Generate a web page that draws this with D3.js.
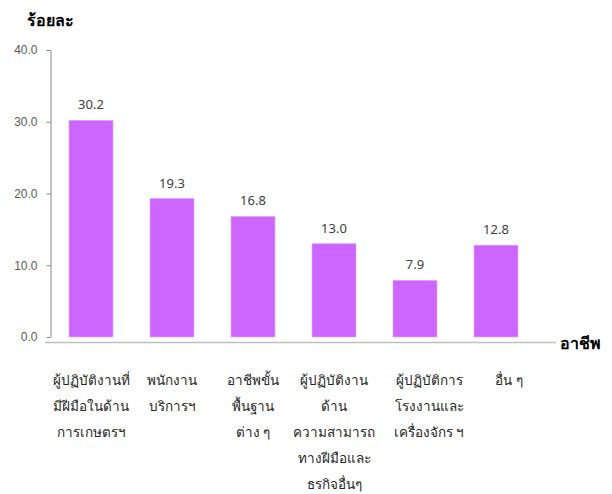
<!DOCTYPE html>
<html>
<head>
<meta charset="utf-8">
<script src="https://cdn.jsdelivr.net/npm/d3@7"></script>
<style>
  body { margin: 0; background: #fff; }
  svg { display: block; font-family: "Noto Sans", "DejaVu Sans", sans-serif; }
</style>
</head>
<body>
<div id="chart"></div>
<script>
//////////////////////////////  data  /////////////////////////////////
var categories = [
  ["ผู้ปฏิบัติงานที่", "มีฝีมือในด้าน", "การเกษตรฯ"],
  ["พนักงาน", "บริการฯ"],
  ["อาชีพขั้น", "พื้นฐาน", "ต่าง ๆ"],
  ["ผู้ปฏิบัติงาน", "ด้าน", "ความสามารถ", "ทางฝีมือและ", "ธรกิจอื่นๆ"],
  ["ผู้ปฏิบัติการ", "โรงงานและ", "เครื่องจักร ฯ"],
  ["อื่น ๆ"]
];
var values = [30.2, 19.3, 16.8, 13.0, 7.9, 12.8];
var yTicks = [0, 10, 20, 30, 40];
var yTitle = "ร้อยละ";
var xTitle = "อาชีพ";

//////////////////////////////  setup  /////////////////////////////////
var width = 612, height = 494;
// small horizontal nudges of the category labels (as in the original)
var labelShift = [0, 0, 0, 0, 14, 13];

var svg = d3.select("#chart")
  .append("svg")
  .attr("width", width)
  .attr("height", height);

var x = d3.scaleBand()
  .domain(d3.range(categories.length))
  .range([50.5, 536.5])
  .paddingInner(0.457)
  .paddingOuter(0.2285);

var y = d3.scaleLinear()
  .domain([0, 40])
  .range([337, 50]);

// y axis
var yAxis = svg.append("g")
  .attr("transform", "translate(50.5,0)")
  .call(d3.axisLeft(y).tickValues(yTicks).tickSize(4).tickSizeOuter(0)
    .tickFormat(function(d){ return d3.format(".1f")(d); }));

yAxis.select(".domain").attr("stroke", "#868686");
yAxis.selectAll(".tick line").attr("stroke", "#868686");
yAxis.selectAll(".tick text")
  .attr("fill", "#595959")
  .attr("font-size", "12px")
  .attr("x", -13);

// x baseline
svg.append("line")
  .attr("x1", 45).attr("x2", 556)
  .attr("y1", 342.5).attr("y2", 342.5)
  .attr("stroke", "#bfbfbf")
  .attr("stroke-width", 1.5);

// bars
svg.selectAll(".bar")
  .data(values)
  .enter()
  .append("rect")
  .attr("class", "bar")
  .attr("x", function(d, i){ return x(i); })
  .attr("width", x.bandwidth())
  .attr("y", function(d){ return y(d); })
  .attr("height", function(d){ return y(0) - y(d); })
  .attr("fill", "#cc66ff")
  .attr("stroke", "#e7a3ff")
  .attr("stroke-width", 0.6);

// value labels
svg.selectAll(".val")
  .data(values)
  .enter()
  .append("text")
  .attr("class", "val")
  .attr("x", function(d, i){ return x(i) + x.bandwidth() / 2; })
  .attr("y", function(d){ return y(d) - 11; })
  .attr("text-anchor", "middle")
  .attr("font-size", "13px")
  .attr("fill", "#404040")
  .text(function(d){ return d3.format(".1f")(d); });

// category labels
var cat = svg.selectAll(".cat")
  .data(categories)
  .enter()
  .append("text")
  .attr("class", "cat")
  .attr("text-anchor", "middle")
  .attr("font-size", "13.5px")
  .attr("fill", "#262626");

cat.selectAll("tspan")
  .data(function(d, i){ return d.map(function(s){ return {s: s, i: i}; }); })
  .enter()
  .append("tspan")
  .attr("x", function(d){ return x(d.i) + x.bandwidth() / 2 + labelShift[d.i]; })
  .attr("y", function(d, j){ return 385 + j * 26; })
  .text(function(d){ return d.s; });

// titles
svg.append("text")
  .attr("x", 27).attr("y", 26)
  .attr("font-size", "16px")
  .attr("font-weight", "bold")
  .attr("fill", "#000")
  .text(yTitle);

svg.append("text")
  .attr("x", 560).attr("y", 349)
  .attr("font-size", "16px")
  .attr("font-weight", "bold")
  .attr("fill", "#000")
  .text(xTitle);
</script>
</body>
</html>
